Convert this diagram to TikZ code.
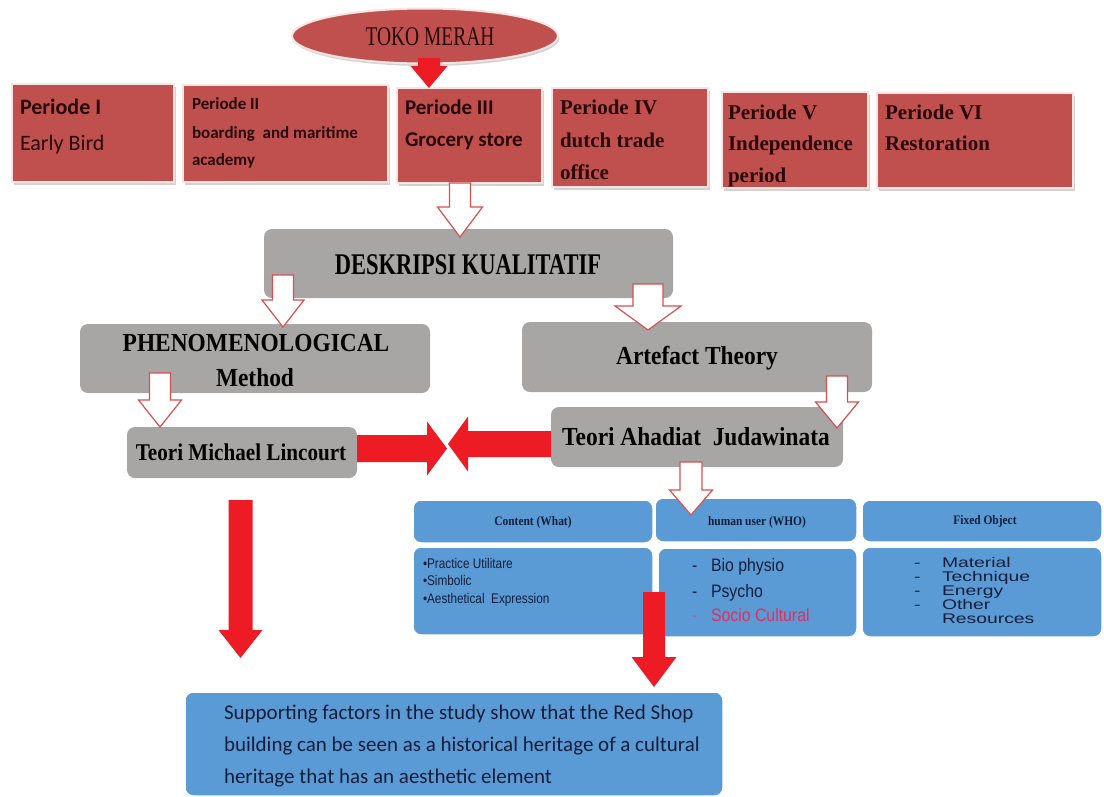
\documentclass[tikz,border=0pt]{standalone}
\usepackage{fontspec}
\usetikzlibrary{calc,shadows,shapes.geometric}
\setmainfont{Liberation Serif}
\newfontfamily\calfont{Carlito}
\newfontfamily\serifn{Liberation Serif}
\newfontfamily\serifc[FakeStretch=0.75]{Liberation Serif}
\newfontfamily\serift[FakeStretch=0.72]{Liberation Serif}
\newfontfamily\serifm[FakeStretch=0.9]{Liberation Serif}
\newfontfamily\serifs[FakeStretch=0.88]{Liberation Serif}
\newfontfamily\sansn[FakeStretch=0.88]{Liberation Sans}
\newfontfamily\sansk[FakeStretch=0.84]{Liberation Sans}
\newfontfamily\sansw[FakeStretch=1.38]{Liberation Sans}
\newcommand\fsz[1]{\fontsize{#1}{#1}\selectfont}
\definecolor{redbox}{RGB}{192,80,77}
\definecolor{redtxt}{RGB}{40,8,8}
\definecolor{graybox}{RGB}{168,165,165}
\definecolor{bluebox}{RGB}{91,155,213}
\definecolor{navy}{RGB}{20,30,60}
\definecolor{arrred}{RGB}{237,28,36}
\definecolor{hollowline}{RGB}{215,80,80}
\definecolor{socio}{RGB}{228,45,95}
\definecolor{rborder}{RGB}{248,228,228}
% vertical arrow pointing down: style, start, tip, half shaft, half head, head length
\newcommand\varrowx[6]{%
  \path[#1] let \p1=(#2), \p2=(#3) in
   (\x2-#4,\y1) -- (\x2+#4,\y1) -- (\x2+#4,\y2+#6) -- (\x2+#5,\y2+#6) -- (\x2,\y2)
   -- (\x2-#5,\y2+#6) -- (\x2-#4,\y2+#6) -- cycle;}
% horizontal arrow: style, start, tip, half shaft, half head, head length, direction (1 right, -1 left)
\newcommand\harrowx[7]{%
  \path[#1] let \p1=(#2), \p2=(#3) in
   (\x1,\y2-#4) -- ({\x2-(#7)*#6},\y2-#4) -- ({\x2-(#7)*#6},\y2-#5) -- (\x2,\y2)
   -- ({\x2-(#7)*#6},\y2+#5) -- ({\x2-(#7)*#6},\y2+#4) -- (\x1,\y2+#4) -- cycle;}
\tikzset{
  perbox/.style={rectangle, fill=redbox, draw=rborder, line width=2pt, inner sep=0pt, outer sep=0pt, anchor=north west,
    drop shadow={shadow xshift=1.5pt, shadow yshift=-2.5pt, opacity=0.35}},
  graybx/.style={rectangle, rounded corners=8pt, fill=graybox, inner sep=0pt, outer sep=0pt, anchor=north west},
  bluebx/.style={rectangle, rounded corners=8pt, fill=bluebox, draw=white, line width=1.5pt, inner sep=0pt, outer sep=0pt, anchor=north west},
  ln/.style={inner sep=0pt, outer sep=0pt, anchor=base west},
  ct/.style={inner sep=0pt, outer sep=0pt, anchor=center},
  hollow/.style={fill=white, draw=hollowline, line width=1.2pt, line join=miter},
  solidarr/.style={fill=arrred},
}
\begin{document}
\begin{tikzpicture}[x=1pt,y=-1pt]
\fill[white] (0,0) rectangle (1104,796);
\useasboundingbox (0,0) rectangle (1104,796);

% ellipse
\node[ellipse, fill=redbox, draw=rborder, line width=2pt, minimum width=266pt, minimum height=55pt, inner sep=0pt, outer sep=0pt,
  drop shadow={shadow xshift=1.5pt, shadow yshift=-2.5pt, opacity=0.35}] (toko) at (425,36) {};
\node[ct, text=redtxt] (tokot) at (430,37) {\serift\fsz{27}TOKO MERAH};

% period boxes
\node[perbox, minimum width=162pt, minimum height=98pt] (p1) at (12,84) {};
\node[perbox, minimum width=205pt, minimum height=97pt] (p2) at (183,85) {};
\node[perbox, minimum width=145pt, minimum height=95pt] (p3) at (397,88) {};
\node[perbox, minimum width=156pt, minimum height=99pt] (p4) at (552,88) {};
\node[perbox, minimum width=146pt, minimum height=96pt] (p5) at (722,92) {};
\node[perbox, minimum width=196pt, minimum height=95pt] (p6) at (877,93) {};

\node[ln, text=redtxt] (p1a) at (20,114) {\calfont\fsz{22}\bfseries Periode I};
\node[ln, text=redtxt] (p1b) at (20,150) {\calfont\fsz{22}Early Bird};
\node[ln, text=redtxt] (p2a) at (192,109) {\calfont\fsz{17}\bfseries Periode II};
\node[ln, text=redtxt] (p2b) at (192,138) {\calfont\fsz{17}\bfseries boarding\ \ and maritime};
\node[ln, text=redtxt] (p2c) at (192,165) {\calfont\fsz{17}\bfseries academy};
\node[ln, text=redtxt] (p3a) at (405,114) {\calfont\fsz{21}\bfseries Periode III};
\node[ln, text=redtxt] (p3b) at (405,146) {\calfont\fsz{21}\bfseries Grocery store};
\node[ln, text=redtxt] (p4a) at (560,114) {\serifn\fsz{21}\bfseries Periode IV};
\node[ln, text=redtxt] (p4b) at (560,147) {\serifn\fsz{21}\bfseries dutch trade};
\node[ln, text=redtxt] (p4c) at (560,179) {\serifn\fsz{21}\bfseries office};
\node[ln, text=redtxt] (p5a) at (728,119) {\serifn\fsz{21}\bfseries Periode V};
\node[ln, text=redtxt] (p5b) at (728,150) {\serifn\fsz{21}\bfseries Independence};
\node[ln, text=redtxt] (p5c) at (728,182) {\serifn\fsz{21}\bfseries period};
\node[ln, text=redtxt] (p6a) at (885,119) {\serifn\fsz{21}\bfseries Periode VI};
\node[ln, text=redtxt] (p6b) at (885,150) {\serifn\fsz{21}\bfseries Restoration};

% gray boxes
\node[graybx, minimum width=409pt, minimum height=69pt] (desk) at (264,229) {};
\node[graybx, minimum width=350pt, minimum height=69pt] (phen) at (80,324) {};
\node[graybx, minimum width=350pt, minimum height=70pt] (arte) at (522,322) {};
\node[graybx, minimum width=230pt, minimum height=51pt] (mich) at (127,427) {};
\node[graybx, minimum width=292pt, minimum height=60pt] (ahad) at (551,407) {};

\node[ct] (deskt) at (468,265) {\serifc\fsz{30}\bfseries DESKRIPSI KUALITATIF};
\node[ct] (phent1) at (256,343) {\serifm\fsz{26}\bfseries PHENOMENOLOGICAL};
\node[ct] (phent2) at (255,378) {\serifm\fsz{26}\bfseries Method};
\node[ct] (artet) at (697,358) {\serifm\fsz{26}\bfseries Artefact Theory};
\node[ct] (micht) at (241,452) {\serifs\fsz{24}\bfseries Teori Michael Lincourt};
\node[ct] (ahadt) at (696,437) {\serifm\fsz{26}\bfseries Teori Ahadiat\ \ Judawinata};

% blue table
\node[bluebx, minimum width=240pt, minimum height=43pt] (bh1) at (413,500) {};
\node[bluebx, minimum width=202pt, minimum height=44pt] (bh2) at (655,498) {};
\node[bluebx, minimum width=240pt, minimum height=42pt] (bh3) at (862,500) {};
\node[bluebx, minimum width=240pt, minimum height=88pt] (bb1) at (413,547) {};
\node[bluebx, minimum width=199pt, minimum height=89pt] (bb2) at (658,548) {};
\node[bluebx, minimum width=240pt, minimum height=90pt] (bb3) at (862,547) {};
\node[bluebx, minimum width=538pt, minimum height=104pt] (bottom) at (185,692) {};

\node[ct, text=navy] (bh1t) at (533,522) {\serifs\fsz{13}\bfseries Content (What)};
\node[ct, text=navy] (bh2t) at (757,522) {\serifs\fsz{13}\bfseries human user (WHO)};
\node[ct, text=navy] (bh3t) at (985,521) {\serifs\fsz{13}\bfseries Fixed Object};

\node[ln, text=navy] (c1) at (423,568) {\sansk\fsz{14}•Practice Utilitare};
\node[ln, text=navy] (c2) at (423,585) {\sansk\fsz{14}•Simbolic};
\node[ln, text=navy] (c3) at (423,603) {\sansk\fsz{14}•Aesthetical\ \ Expression};

\node[ln, text=navy] (hd1) at (692,571) {\sansn\fsz{18}-};
\node[ln, text=navy] (h1) at (711,571) {\sansn\fsz{18}Bio physio};
\node[ln, text=navy] (hd2) at (692,597) {\sansn\fsz{18}-};
\node[ln, text=navy] (h2) at (711,597) {\sansn\fsz{18}Psycho};
\node[ln, text=socio!45!bluebox] (hd3) at (692,621) {\sansn\fsz{18}-};
\node[ln, text=socio] (h3) at (711,621) {\sansn\fsz{18}Socio Cultural};

\node[ln, text=navy] (fd1) at (914,567) {\sansw\fsz{14}-};
\node[ln, text=navy] (f1) at (942,567) {\sansw\fsz{14}Material};
\node[ln, text=navy] (fd2) at (914,581) {\sansw\fsz{14}-};
\node[ln, text=navy] (f2) at (942,581) {\sansw\fsz{14}Technique};
\node[ln, text=navy] (fd3) at (914,595) {\sansw\fsz{14}-};
\node[ln, text=navy] (f3) at (942,595) {\sansw\fsz{14}Energy};
\node[ln, text=navy] (fd4) at (914,609) {\sansw\fsz{14}-};
\node[ln, text=navy] (f4) at (942,609) {\sansw\fsz{14}Other};
\node[ln, text=navy] (f5) at (942,623) {\sansw\fsz{14}Resources};

\node[ln, text=navy] (s1) at (224,719) {\calfont\fsz{21}Supporting factors in the study show that the Red Shop};
\node[ln, text=navy] (s2) at (224,751) {\calfont\fsz{21}building can be seen as a historical heritage of a cultural};
\node[ln, text=navy] (s3) at (224,783) {\calfont\fsz{21}heritage that has an aesthetic element};

% arrows
\varrowx{solidarr}{$(toko.center)+(4,22)$}{$(p3.north west)+(32,0)$}{11pt}{18.5pt}{22pt}
\varrowx{hollow}{$(p3.south west)+(63,0)$}{$(desk.north west)+(196,8)$}{10.5pt}{22.5pt}{30pt}
\varrowx{hollow}{$(desk.south west)+(19,-23)$}{$(phen.north west)+(203,3)$}{10.5pt}{21pt}{27pt}
\varrowx{hollow}{$(desk.south west)+(384,-14)$}{$(arte.north west)+(126,8)$}{15pt}{33pt}{24pt}
\varrowx{hollow}{$(phen.south west)+(80,-20)$}{$(mich.north west)+(33,0)$}{10.5pt}{21.5pt}{27pt}
\varrowx{hollow}{$(arte.south west)+(315,-16)$}{$(ahad.north west)+(286,21)$}{10.5pt}{21.5pt}{26pt}
\varrowx{hollow}{$(ahad.south west)+(140,-5)$}{$(bh2.north west)+(36,17)$}{11pt}{21.5pt}{25pt}
\harrowx{solidarr}{$(mich.north east)+(0,21.5)$}{$(ahad.north west)+(-104,41.5)$}{13.5pt}{27pt}{20pt}{1}
\harrowx{solidarr}{$(ahad.north west)+(0,37)$}{$(mich.north east)+(91,17)$}{13pt}{27.5pt}{20pt}{-1}
\varrowx{solidarr}{$(mich.south west)+(113.5,22)$}{$(bottom.north west)+(55.5,-34)$}{12pt}{22pt}{28pt}
\varrowx{solidarr}{$(bb1.south east)+(1,-43)$}{$(bottom.north east)+(-69,-5)$}{11pt}{22.5pt}{30pt}
\end{tikzpicture}
\end{document}
